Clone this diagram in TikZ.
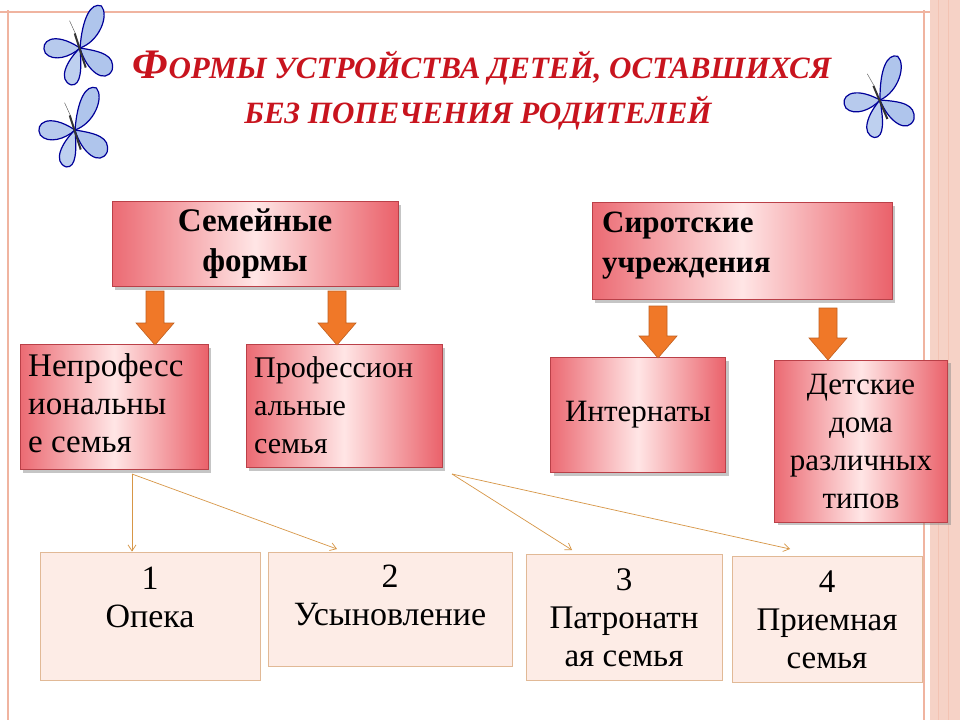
\documentclass[tikz,border=0pt]{standalone}
\usepackage{fontspec}
\setmainfont{Liberation Serif}
\usetikzlibrary{shadows,arrows.meta}
\definecolor{titlered}{RGB}{200,20,30}
\definecolor{boxred}{RGB}{232,80,90}
\definecolor{paleb}{RGB}{253,236,230}
\definecolor{tanb}{RGB}{225,185,150}
\definecolor{arrowor}{RGB}{240,120,40}
\definecolor{thinor}{RGB}{215,150,70}
\definecolor{frame}{RGB}{240,180,160}
\definecolor{bfly}{RGB}{110,150,220}
\tikzset{
 redbox/.style={draw=boxred!80!black,line width=0.6pt,left color=boxred!85,right color=boxred!90,middle color=red!10,
   drop shadow={shadow xshift=3pt,shadow yshift=-3pt,fill=black!45},inner sep=6pt},
 palebox/.style={draw=tanb,line width=1pt,fill=paleb},
 bigarrow/.style={draw=arrowor!80!black,fill=arrowor,line width=0.6pt},
 thin/.style={draw=thinor,line width=0.7pt,-{Straight Barb[length=6pt,width=8pt]}},
 lbl/.style={align=left,anchor=north west,text=black,inner sep=0pt},
 clbl/.style={align=center,text=black},
}
\newcommand{\bigarr}[3]{% x, ytop, ybot
 \fill[bigarrow] (#1-9,#2) -- (#1+9,#2) -- (#1+9,#3-22) -- (#1+19,#3-22) -- (#1,#3) -- (#1-19,#3-22) -- (#1-9,#3-22) -- cycle;}
\newcommand{\bfly}[3]{% x y angle
 \begin{scope}[shift={(#1,#2)},rotate=#3]
  \fill[bfly!55,draw=blue!60!black,line width=1.2pt] (0,0) .. controls (5,-30) and (15,-45) .. (25,-40) .. controls (32,-30) and (20,-5) .. (0,0);
  \fill[bfly!50,draw=blue!60!black,line width=1.2pt] (0,0) .. controls (-25,-20) and (-40,-10) .. (-35,2) .. controls (-28,12) and (-10,8) .. (0,0);
  \fill[bfly!55,draw=blue!60!black,line width=1.2pt] (0,0) .. controls (20,5) and (35,10) .. (30,25) .. controls (22,38) and (5,25) .. (0,0);
  \fill[bfly!45,draw=blue!60!black,line width=1.2pt] (0,0) .. controls (-15,12) and (-25,30) .. (-12,36) .. controls (-2,38) and (0,20) .. (0,0);
  \draw[line width=2pt,black!80] (-4,-15) -- (4,20);
  \draw[black!70] (-3,-14) -- (-8,-28);
 \end{scope}}
\begin{document}
\begin{tikzpicture}[x=1pt,y=-1pt]
\useasboundingbox (0,0) rectangle (960,720);
\fill[white] (0,0) rectangle (960,720);
% frame
\fill[frame!60] (930,0) rectangle (960,720);
\draw[frame!80,line width=1pt] (938,0) -- (938,720) (948,0) -- (948,720);
\draw[frame,line width=1.5pt] (8,10) -- (8,720) (924,10) -- (924,720) (0,12) -- (930,12);
% title
\node[text=titlered,font=\bfseries\itshape] (t1) at (482,68) {{\fontsize{42}{46}\selectfont Ф}{\fontsize{31}{36}\selectfont ОРМЫ УСТРОЙСТВА ДЕТЕЙ, ОСТАВШИХСЯ}};
\node[text=titlered,font=\bfseries\itshape\fontsize{31}{36}\selectfont] (t2) at (478,113) {БЕЗ ПОПЕЧЕНИЯ РОДИТЕЛЕЙ};
\bfly{80}{48}{5}
\bfly{75}{130}{5}
\bfly{880}{100}{10}
% top boxes
\node[redbox,minimum width=286pt,minimum height=85pt,clbl,font=\bfseries\fontsize{33}{40}\selectfont] (sem) at (255,244) {Семейные\\формы};
\node[redbox,minimum width=300pt,minimum height=97pt] (sir) at (742,251) {};
\node[lbl,font=\bfseries\fontsize{31}{40}\selectfont] (sirt) at (602,212) {Сиротские\\учреждения};
% mid boxes
\node[redbox,minimum width=188pt,minimum height=125pt] (np) at (114,407) {};
\node[lbl,font=\fontsize{33}{38}\selectfont] (npt) at (28,353) {Непрофесс\\иональны\\е семья};
\node[redbox,minimum width=196pt,minimum height=123pt] (pr) at (344,406) {};
\node[lbl,font=\fontsize{30}{38}\selectfont] (prt) at (254,356) {Профессион\\альные\\семья};
\node[redbox,minimum width=175pt,minimum height=115pt,font=\fontsize{31}{36}\selectfont] (int) at (638,415) {Интернаты};
\node[redbox,minimum width=173pt,minimum height=162pt,clbl,font=\fontsize{31}{38}\selectfont] (det) at (861,441) {Детские\\дома\\различных\\типов};
% big arrows
\bigarr{155}{291}{345}
\bigarr{337}{291}{345}
\bigarr{658}{306}{358}
\bigarr{828}{308}{360}
% bottom boxes
\node[palebox,minimum width=220pt,minimum height=128pt] (b1) at (150,616) {};
\node[clbl,font=\fontsize{34}{38}\selectfont] at (150,597) {1\\Опека};
\node[palebox,minimum width=244pt,minimum height=114pt] (b2) at (390,609) {};
\node[clbl,font=\fontsize{34}{38}\selectfont] at (390,595) {2\\Усыновление};
\node[palebox,minimum width=196pt,minimum height=126pt] (b3) at (624,617) {};
\node[clbl,font=\fontsize{33}{38}\selectfont] at (624,618) {3\\Патронатн\\ая семья};
\node[palebox,minimum width=190pt,minimum height=126pt] (b4) at (827,619) {};
\node[clbl,font=\fontsize{33}{38}\selectfont] at (827,620) {4\\Приемная\\семья};
% thin arrows
\coordinate (s1) at (132,474);
\coordinate (s2) at (452,474);
\draw[thin] (s1) -- (b1.north -| s1);
\draw[thin] (s1) -- (337,549);
\draw[thin] (s2) -- (572,550);
\draw[thin] (s2) -- (790,549);
\end{tikzpicture}
\end{document}
